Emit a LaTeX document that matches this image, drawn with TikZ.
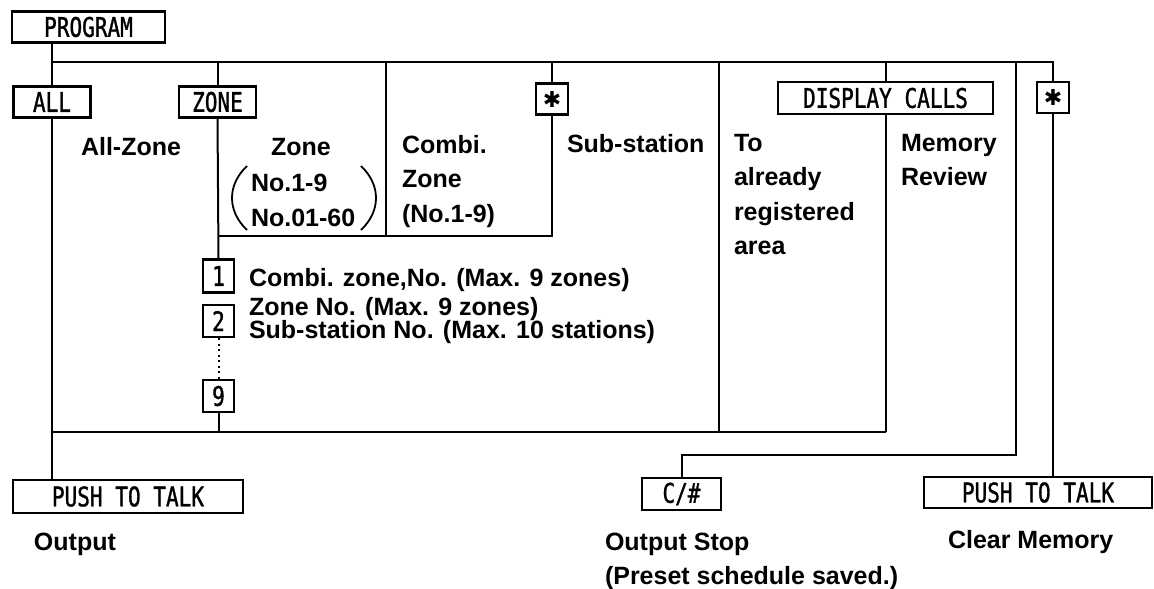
\documentclass[tikz,border=0pt]{standalone}
\usepackage{fontspec}
\setmainfont{Liberation Sans}
\newfontfamily\keyfont{DejaVu Sans Mono}[FakeStretch=0.78,FakeBold=1.2]
\newfontfamily\symfont{DejaVu Sans}
\begin{document}
\begin{tikzpicture}[x=1pt,y=-1pt,line width=2pt,
  key/.style={draw,line width=2.2pt,inner sep=0pt,minimum height=31pt,
    font=\keyfont\fontsize{27}{27}\selectfont},
  starkey/.style={draw,line width=2.2pt,inner sep=0pt,minimum width=32pt,minimum height=31pt,
    font=\symfont\bfseries\fontsize{22}{22}\selectfont},
  numkey/.style={key,minimum width=31pt,minimum height=32pt},
  lbl/.style={font=\bfseries\fontsize{25}{34.5}\selectfont,inner sep=0pt,align=left},
  paren/.style={line width=1.8pt}]
\useasboundingbox (0,0) rectangle (1154,589);

% keys
\node[key,minimum width=153pt] (prog) at (88.5,27) {PROGRAM};
\node[key,minimum width=77pt] (all) at (52,102) {ALL};
\node[key,minimum width=77pt] (zone) at (217.5,102) {ZONE};
\node[starkey] (star1) at (552,99) {✱};
\node[key,minimum width=215pt,minimum height=32pt] (dc) at (885.5,98) {DISPLAY CALLS};
\node[starkey] (star2) at (1053,97.5) {✱};
\node[numkey,minimum height=33pt] (k1) at (218.5,276) {1};
\node[numkey] (k2) at (218.5,321) {2};
\node[numkey] (k9) at (218.5,396) {9};
\node[key,minimum width=230pt,minimum height=33pt] (ptt1) at (128,496.5) {PUSH TO TALK};
\node[key,minimum width=79pt,minimum height=32pt] (cs) at (681.5,494) {C/\#};
\node[key,minimum width=228pt] (ptt2) at (1038,492.5) {PUSH TO TALK};

% junctions
\coordinate (tl) at (52,62);
\coordinate (tr) at (1053,62);
\coordinate (bl) at (52,432);
\coordinate (zb) at (218,236);
\coordinate (cz) at (386,62);
\coordinate (to) at (719,62);
\coordinate (cl) at (1016,62);
\coordinate (clb) at (1016,455);

% connectors
\draw (prog.south -| all.north) -- (tl);
\draw (all.north) -- (tl) -- (tr) -- (star2.north);
\draw (all.south) -- (ptt1.north -| all.south);
\draw (zone.north) -- (zone.north |- tl);
\draw (zone.south) -- (k1.north);
\draw[dash pattern=on 2pt off 3.5pt] (k2.south) -- (k9.north);
\draw (k9.south) -- (k9.south |- bl);
\draw (bl) -- (dc.south |- bl);
\draw (cz) -- (cz |- zb);
\draw (zb) -- (star1.south |- zb) -- (star1.south);
\draw (star1.north) -- (star1.north |- tl);
\draw (to) -- (to |- bl);
\draw (dc.north) -- (dc.north |- tl);
\draw (dc.south) -- (dc.south |- bl);
\draw (cl) -- (clb) -- (clb -| cs.north) -- (cs.north);
\draw (star2.south) -- (star2.south |- ptt2.north);

% labels
\node[lbl,anchor=base west] (lall) at (80,155) {All-Zone};
\node[lbl,anchor=base] (lzone) at (301,155) {Zone};
\node[lbl,anchor=base west] (lz1) at (250,191) {No.1-9};
\node[lbl,anchor=base west] (lz2) at (250,226) {No.01-60};
\draw[paren] (247,166) .. controls (227,185) and (227,211) .. (247,230);
\draw[paren] (361,166) .. controls (381,185) and (381,211) .. (361,230);
\node[lbl,anchor=north west] (lcz) at (401,134) {Combi.\\Zone\\(No.1-9)};
\node[lbl,anchor=base west] (lsub) at (566,152) {Sub-station};
\node[lbl,anchor=north west] (lto) at (733,133) {To\\already\\registered\\area};
\node[lbl,anchor=north west] (lmem) at (900,133) {Memory\\Review};
\node[lbl,anchor=base west] (r1) at (248,286) {Combi. zone,No. (Max. 9 zones)};
\node[lbl,anchor=base west] (r2) at (248,315) {Zone No. (Max. 9 zones)};
\node[lbl,anchor=base west] (r3) at (248,338) {Sub-station No. (Max. 10 stations)};
\node[lbl,anchor=base west] (lout) at (33,550) {Output};
\node[lbl,anchor=north west] (lstop) at (604,532) {Output Stop\\(Preset schedule saved.)};
\node[lbl,anchor=base west] (lclr) at (947,548) {Clear Memory};
\end{tikzpicture}
\end{document}
